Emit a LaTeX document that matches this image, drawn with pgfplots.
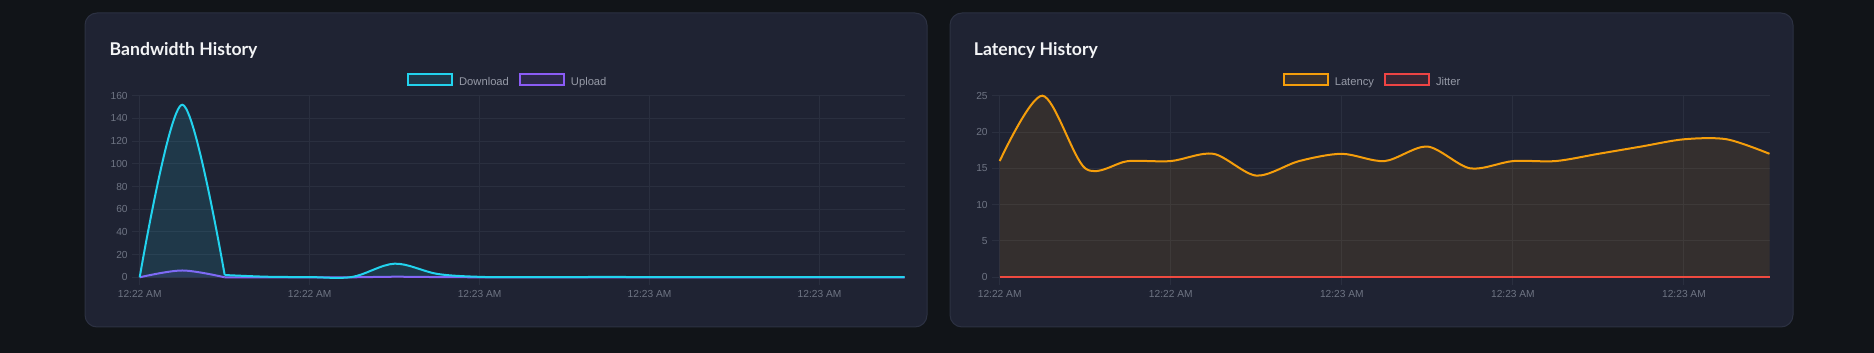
\documentclass[border=0pt]{standalone}
\usepackage{fontspec}
\setmainfont{Liberation Sans}
\newfontfamily\titlefont{Lato}
\usepackage{pgfplots}
\pgfplotsset{compat=1.18}
\definecolor{bg}{HTML}{111418}
\definecolor{card}{HTML}{1F2333}
\definecolor{cardborder}{HTML}{2C3142}
\definecolor{gridc}{HTML}{2A2F3F}
\definecolor{tickc}{HTML}{6E7483}
\definecolor{legc}{HTML}{969AA7}
\definecolor{titlec}{HTML}{F3F4F6}
\definecolor{dl}{HTML}{22D3EE}
\definecolor{ul}{HTML}{8B5CF6}
\definecolor{lat}{HTML}{F59E0B}
\definecolor{jit}{HTML}{EF4444}

\pgfplotstableread{
x dl ul
0 0 0
1 152 6
2 2 0
}\bwA
\pgfplotstableread{
x dl ul
2 2 0
3 0.5 0
4 0.2 0
5 0.3 0
6 12 0.5
7 3 0.2
8 0.4 0
9 0.2 0
10 0.2 0
11 0.3 0
12 0.2 0
13 0.2 0
14 0.2 0
15 0.2 0
16 0.2 0
17 0.2 0
18 0.2 0
}\bwB
\pgfplotstableread{
x lat jit
0 16 0
1 25 0
2 15 0
3 16 0
4 16 0
5 17 0
6 14 0
7 16 0
8 17 0
9 16 0
10 18 0
11 15 0
12 16 0
13 16 0
14 17 0
15 18 0
16 19 0
17 19 0
18 17 0
}\lattab

\pgfplotsset{
 dash/.style={
  scale only axis, clip=false,
  xmin=0, xmax=18, xtick={0,4,8,12,16},
  xticklabels={12:22 AM,12:22 AM,12:23 AM,12:23 AM,12:23 AM},
  ymin=0,
  axis x line*=bottom, axis y line*=left,
  axis line style={gridc, line width=0.5pt, -},
  grid=major, major grid style={gridc, line width=0.5pt},
  tick align=outside, major tick length=4pt,
  tick style={gridc, line width=0.5pt},
  tick label style={font=\fontsize{5.1pt}{5.5pt}\selectfont, text=tickc},
  xticklabel style={yshift=1.2pt},
  yticklabel style={xshift=1.5pt},
  /pgf/number format/assume math mode=true,
  legend style={draw=none, fill=none, text=legc,
    font=\fontsize{5.6pt}{6pt}\selectfont, legend columns=2,
    nodes={inner sep=0pt},
    /tikz/every odd column/.append style={column sep=3pt},
    /tikz/every even column/.append style={column sep=5pt},
    inner sep=0pt, anchor=center},
  legend image code/.code={\draw[#1] (0pt,-0.75pt) rectangle (22pt,4.75pt);},
  every axis plot/.append style={line width=1pt},
 }
}

\begin{document}
\begin{tikzpicture}
\fill[bg] (0pt,0pt) rectangle (937pt,176.5pt);
\draw[cardborder, fill=card, rounded corners=6pt, line width=0.5pt] (42.5pt,13pt) rectangle (463.5pt,170pt);
\draw[cardborder, fill=card, rounded corners=6pt, line width=0.5pt] (475pt,13pt) rectangle (896.5pt,170pt);
\node[anchor=base west, inner sep=0pt, text=titlec] at (54.65pt,148.5pt) {\titlefont\bfseries\fontsize{8.8pt}{10pt}\selectfont Bandwidth History};
\node[anchor=base west, inner sep=0pt, text=titlec] at (486.75pt,148.5pt) {\titlefont\bfseries\fontsize{8.8pt}{10pt}\selectfont Latency History};

\begin{axis}[dash, at={(69.85pt,37.85pt)}, width=382.4pt, height=90.8pt,
  ymax=160, ytick={0,20,...,160},
  legend style={at={(0.48,1.082)}}]
\addlegendimage{draw=dl, fill=dl, fill opacity=0.12, line width=1pt}
\addlegendentry{Download}
\addlegendimage{draw=ul, fill=ul, fill opacity=0.12, line width=1pt}
\addlegendentry{Upload}
\addplot[draw=none, fill=ul, fill opacity=0.12, smooth, tension=0.55, forget plot] table[x=x,y=ul]{\bwA} \closedcycle;
\addplot[draw=none, fill=ul, fill opacity=0.12, smooth, tension=0.55, forget plot] table[x=x,y=ul]{\bwB} \closedcycle;
\addplot[ul, smooth, tension=0.55, forget plot] table[x=x,y=ul]{\bwA};
\addplot[ul, smooth, tension=0.55, forget plot] table[x=x,y=ul]{\bwB};
\addplot[draw=none, fill=dl, fill opacity=0.12, smooth, tension=0.55, forget plot] table[x=x,y=dl]{\bwA} \closedcycle;
\addplot[draw=none, fill=dl, fill opacity=0.12, smooth, tension=0.55, forget plot] table[x=x,y=dl]{\bwB} \closedcycle;
\addplot[dl, smooth, tension=0.55, forget plot] table[x=x,y=dl]{\bwA};
\addplot[dl, smooth, tension=0.55, forget plot] table[x=x,y=dl]{\bwB};
\end{axis}

\begin{axis}[dash, at={(499.85pt,37.85pt)}, width=384.9pt, height=90.8pt,
  ymax=25, ytick={0,5,...,25},
  legend style={at={(0.483,1.082)}}]
\addlegendimage{draw=lat, fill=lat, fill opacity=0.12, line width=1pt}
\addlegendentry{Latency}
\addlegendimage{draw=jit, fill=jit, fill opacity=0.12, line width=1pt}
\addlegendentry{Jitter}
\addplot[jit, forget plot] table[x=x,y=jit]{\lattab};
\addplot[draw=none, fill=lat, fill opacity=0.1, smooth, tension=0.5, forget plot] table[x=x,y=lat]{\lattab} \closedcycle;
\addplot[lat, smooth, tension=0.5, forget plot] table[x=x,y=lat]{\lattab};
\end{axis}
\pgfresetboundingbox
\useasboundingbox (0pt,0pt) rectangle (937pt,176.5pt);
\end{tikzpicture}
\end{document}
